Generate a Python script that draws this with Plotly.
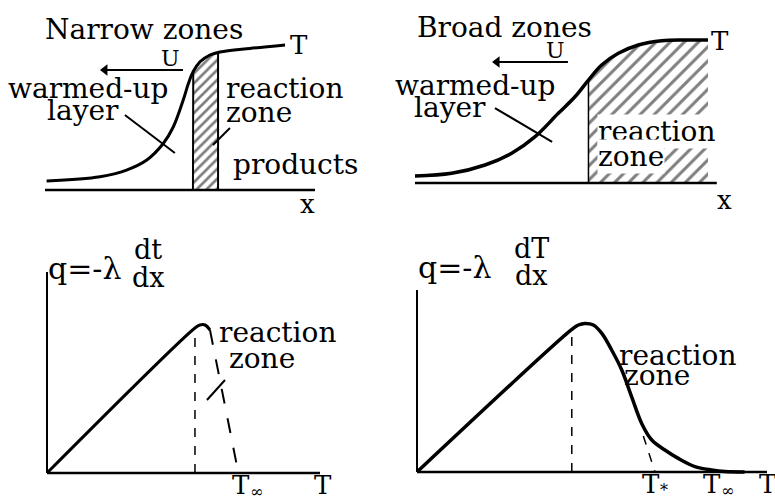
import numpy as np
import plotly.graph_objects as go

W, H = 775, 504

# ---- Temperature profiles T(x) (upper panels) ----
narrow_x = [0.06, 2.04, 3.02, 3.77, 4.38, 4.75, 5.12, 5.31, 5.49, 5.74, 6.11, 6.48, 7.59, 8.89]
narrow_T = [0.06, 0.089, 0.133, 0.2, 0.31, 0.42, 0.6, 0.71, 0.79, 0.855, 0.9, 0.92, 0.944, 0.967]
narrow_zone = [5.48, 6.41]          # reaction zone limits along x
narrow_xaxis = [0, 10]

broad_x = [0, 1.25, 2.39, 3.3, 4.1, 4.89, 5.46, 5.92, 6.37, 6.94, 7.62, 8.42, 9.22, 10]
broad_T = [0.049, 0.068, 0.126, 0.208, 0.324, 0.487, 0.603, 0.72, 0.825, 0.907, 0.965, 0.995, 1.0, 1.0]
broad_zone = [5.92, 10]
broad_xaxis = [0, 10.3]

# ---- Heat flux q(T) (lower panels) ----
narrow_qT = [0, 5.42, 5.6, 5.79, 5.97]
narrow_q = [0, 0.725, 0.74, 0.74, 0.715]
narrow_tail_T = [5.97, 7.01]
narrow_tail_q = [0.715, 0]
narrow_Taxis = [0, 10]
narrow_qaxis = [0, 1.005]

broad_qT = [0, 5.67, 5.91, 6.15, 6.46, 6.77, 7.13, 7.5, 7.86, 8.23, 8.6, 9.08, 9.57, 10.18, 10.79, 11.28, 12.0]
broad_q = [0, 0.713, 0.735, 0.743, 0.735, 0.693, 0.61, 0.51, 0.377, 0.243, 0.16, 0.11, 0.068, 0.027, 0.01, 0.002, 0.0]
broad_tangent_T = [8.29, 8.72]
broad_tangent_q = [0.18, 0]
broad_Taxis = [0, 12.82]
broad_qaxis = [0, 0.91]

FONT = "DejaVu Serif"
INK = "black"
TXT = 28

fig = go.Figure()

# panel frames: pixel box, origin pixel, pixels per data unit
frames = {
    1: dict(box=(0, 387, 0, 210), org=(45, 190), s=(27.0, 150.0)),
    2: dict(box=(387, 775, 0, 210), org=(415, 183), s=(29.3, 143.0)),
    3: dict(box=(0, 387, 210, 504), org=(47, 473), s=(27.3, 200.0)),
    4: dict(box=(387, 775, 210, 504), org=(417, 472), s=(27.3, 200.0)),
}
for i, f in frames.items():
    x0, x1, y0, y1 = f["box"]
    ox, oy = f["org"]
    sx, sy = f["s"]
    sfx = "" if i == 1 else str(i)
    fig.update_layout(**{
        "xaxis" + sfx: dict(domain=[x0 / W, x1 / W], range=[(x0 - ox) / sx, (x1 - ox) / sx],
                            visible=False, anchor="y" + sfx, fixedrange=True),
        "yaxis" + sfx: dict(domain=[1 - y1 / H, 1 - y0 / H], range=[(oy - y1) / sy, (oy - y0) / sy],
                            visible=False, anchor="x" + sfx, fixedrange=True),
    })


def refs(p):
    s = "" if p == 1 else str(p)
    return "x" + s, "y" + s


def line(p, x, y, width=3, dash="solid", shape="linear"):
    xr, yr = refs(p)
    fig.add_trace(go.Scatter(x=x, y=y, mode="lines", xaxis=xr, yaxis=yr,
                             line=dict(color=INK, width=width, dash=dash, shape=shape),
                             hoverinfo="skip", showlegend=False))


def seg(p, x0, y0, x1, y1, width=2, dash="solid"):
    xr, yr = refs(p)
    fig.add_shape(type="line", xref=xr, yref=yr, x0=x0, y0=y0, x1=x1, y1=y1,
                  line=dict(color=INK, width=width, dash=dash))


def label(p, text, x, y, size=TXT, xanchor="center", bg=None, yshift=0, xshift=0):
    xr, yr = refs(p)
    fig.add_annotation(xref=xr, yref=yr, x=x, y=y, text=text, showarrow=False,
                       xanchor=xanchor, yanchor="middle", bgcolor=bg, borderpad=0,
                       xshift=xshift, yshift=yshift,
                       font=dict(family=FONT, size=size, color=INK))


def subscripted(p, base, sub, x, y):
    label(p, base, x, y, size=26, xanchor="right", xshift=4)
    label(p, sub, x, y, size=16, xanchor="left", xshift=2, yshift=-6)


def arrow(p, x_head, x_tail, y):
    # velocity arrow: shaft plus a left-pointing head
    xr, yr = refs(p)
    fig.add_shape(type="line", xref=xr, yref=yr, x0=x_tail, y0=y, x1=x_head, y1=y,
                  line=dict(color=INK, width=2))
    fig.add_trace(go.Scatter(x=[x_head], y=[y], mode="markers", xaxis=xr, yaxis=yr,
                             marker=dict(symbol="triangle-left", size=10, color=INK),
                             hoverinfo="skip", showlegend=False))


def hatch(p, xs, ys, lo, hi, size, solidity, edge):
    cx = np.asarray(xs)
    cy = np.asarray(ys)
    inner = (cx > lo) & (cx < hi)
    top_x = np.concatenate([[lo], cx[inner], [hi]])
    top_y = np.interp(top_x, cx, cy)
    px = np.concatenate([[lo], top_x, [hi, lo]])
    py = np.concatenate([[0], top_y, [0, 0]])
    xr, yr = refs(p)
    fig.add_trace(go.Scatter(x=px, y=py, mode="lines", fill="toself", xaxis=xr, yaxis=yr,
                             fillcolor="white",
                             fillpattern=dict(shape="/", fgcolor=INK, bgcolor="white",
                                              size=size, solidity=solidity),
                             line=dict(color=INK, width=edge), hoverinfo="skip",
                             showlegend=False))


# ---------------- Panel 1: narrow zones, T(x) ----------------
hatch(1, narrow_x, narrow_T, narrow_zone[0], narrow_zone[1], 7, 0.38, 2)
line(1, narrow_xaxis, [0, 0], width=2.5)
line(1, narrow_x, narrow_T, width=3, shape="spline")
label(1, "Narrow zones", 3.67, 1.067)
label(1, "T", 9.4, 0.967, size=26)
label(1, "x", 9.74, -0.09, size=26)
label(1, "U", 4.63, 0.875, size=22)
arrow(1, 2.22, 5.11, 0.80)
label(1, "warmed-up", 1.61, 0.68)
label(1, "layer", 1.39, 0.533)
seg(1, 2.96, 0.5, 4.81, 0.247)
label(1, "reaction", 6.67, 0.68, xanchor="left")
label(1, "zone", 6.67, 0.52, xanchor="left")
seg(1, 6.85, 0.413, 6.22, 0.3)
label(1, "products", 6.93, 0.167, xanchor="left")

# ---------------- Panel 2: broad zones, T(x) ----------------
hatch(2, broad_x, broad_T, broad_zone[0], broad_zone[1], 10, 0.3, 0)
z0 = broad_zone[0]
seg(2, z0, 0, z0, float(np.interp(z0, broad_x, broad_T)), width=1.5)
line(2, broad_xaxis, [0, 0], width=2.5)
line(2, broad_x, broad_T, width=3.5, shape="spline")
label(2, "Broad zones", 3.04, 1.09)
label(2, "T", 10.4, 0.99, size=26)
label(2, "x", 10.58, -0.12, size=26)
label(2, "U", 4.78, 0.93, size=22)
arrow(2, 2.8, 5.22, 0.846)
label(2, "warmed-up", 2.05, 0.685)
label(2, "layer", 1.19, 0.531)
seg(2, 2.73, 0.524, 4.68, 0.287)
label(2, "reaction", 6.2, 0.357, xanchor="left", bg="white")
label(2, "zone", 6.2, 0.182, xanchor="left", bg="white")

# ---------------- Panel 3: narrow zones, q(T) ----------------
line(3, narrow_Taxis, [0, 0], width=2.5)
line(3, [0, 0], narrow_qaxis, width=2)
seg(3, narrow_qT[1], 0, narrow_qT[1], narrow_q[1], width=1.5, dash="dash")
line(3, narrow_qT, narrow_q, width=3, shape="spline")
line(3, narrow_tail_T, narrow_tail_q, width=2, dash="longdash")
label(3, "q=-λ", 0.0, 1.025, size=30, xanchor="left")
label(3, "dt", 3.7, 1.12, size=27)
label(3, "dx", 3.7, 0.98, size=27)
label(3, "reaction", 6.26, 0.705, xanchor="left")
label(3, "zone", 6.63, 0.575, xanchor="left")
seg(3, 5.86, 0.365, 6.52, 0.465)
subscripted(3, "T", "∞", 7.33, -0.06)
label(3, "T", 10.1, -0.06, size=26)

# ---------------- Panel 4: broad zones, q(T) ----------------
line(4, broad_Taxis, [0, 0], width=2.5)
line(4, [0, 0], broad_qaxis, width=2)
seg(4, broad_qT[1], 0, broad_qT[1], broad_q[1], width=1.5, dash="dash")
line(4, broad_tangent_T, broad_tangent_q, width=1.5, dash="dash")
line(4, broad_qT, broad_q, width=3.5, shape="spline")
label(4, "q=-λ", 0.0, 1.025, size=30, xanchor="left")
label(4, "dT", 4.2, 1.12, size=27)
label(4, "dx", 4.2, 0.985, size=27)
label(4, "reaction", 7.37, 0.585, xanchor="left")
label(4, "zone", 7.55, 0.485, xanchor="left")
subscripted(4, "T", "*", 8.78, -0.06)
subscripted(4, "T", "∞", 11.04, -0.06)
label(4, "T", 12.86, -0.06, size=26)

fig.update_layout(width=W, height=H, margin=dict(l=0, r=0, t=0, b=0),
                  paper_bgcolor="white", plot_bgcolor="white", showlegend=False)

fig.write_html("out.html", config={"displayModeBar": False})
